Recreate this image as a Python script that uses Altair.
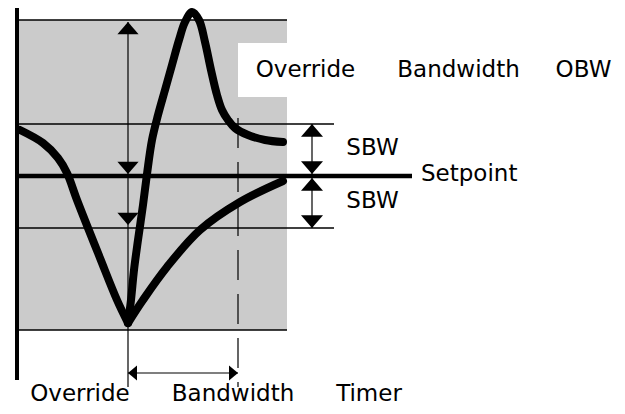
import altair as alt
import pandas as pd

# Diagram units: x = time position, y = deviation from setpoint (setpoint = 0)
X_DOMAIN = [0, 609]
Y_DOMAIN = [-230, 168]

SETPOINT = 0
SBW_HI, SBW_LO = 52, -52
OBW_HI, OBW_LO = 156, -154
T_START, T_END = 120, 230          # override bandwidth timer
BAND_X0, BAND_X1 = 11, 279
SBW_ARROW_X = 304
TIMER_Y = -197

# Process curve, first excursion (falls from above setpoint to the minimum)
a_left_x = [12, 35, 50, 59, 69, 92, 109, 120]
a_left_y = [46, 33, 18, 3, -24, -82, -124, -147]
# recovery without override
a_right_x = [120, 135, 159, 192, 232, 275]
a_right_y = [-147, -124, -91, -54, -26, -5]
# recovery with override overshoot
b_x = [120, 123, 126, 130, 135, 139, 144, 150, 157, 164, 171, 177, 184, 191,
       197, 203, 209, 214, 220, 227, 240, 257, 275]
b_y = [-147, -124, -94, -64, -29, 2, 36, 61, 86, 111, 136, 154, 164, 156,
       134, 106, 81, 66, 56, 48, 41, 36, 34]

rows = []
for name, xs, ys in [("a_left", a_left_x, a_left_y),
                     ("a_right", a_right_x, a_right_y),
                     ("b", b_x, b_y)]:
    for i, (x, y) in enumerate(zip(xs, ys)):
        rows.append({"series": name, "i": i, "x": x, "y": y})
curves_df = pd.DataFrame(rows)

xs = alt.Scale(domain=X_DOMAIN, nice=False, zero=False)
ys = alt.Scale(domain=Y_DOMAIN, nice=False, zero=False)

# Shaded override band and white label cutout
rect_df = pd.DataFrame([
    {"x": BAND_X0, "x2": BAND_X1, "y": OBW_HI, "y2": OBW_LO, "fill": "#cbcbcb"},
    {"x": 230, "x2": 281, "y": 133, "y2": 79, "fill": "white"},
])
rects = alt.Chart(rect_df).mark_rect().encode(
    x=alt.X("x:Q", scale=xs, axis=None), x2="x2:Q",
    y=alt.Y("y:Q", scale=ys, axis=None), y2="y2:Q",
    fill=alt.Fill("fill:N", scale=None),
)

# Solid lines
rule_df = pd.DataFrame([
    {"x": 9, "x2": 9, "y": 168, "y2": -204, "w": 4},                       # axis
    {"x": BAND_X0, "x2": BAND_X1, "y": OBW_HI, "y2": OBW_HI, "w": 1.5},
    {"x": BAND_X0, "x2": 326, "y": SBW_HI, "y2": SBW_HI, "w": 1.5},
    {"x": BAND_X0, "x2": 404, "y": SETPOINT, "y2": SETPOINT, "w": 4.5},
    {"x": BAND_X0, "x2": 326, "y": SBW_LO, "y2": SBW_LO, "w": 1.5},
    {"x": BAND_X0, "x2": BAND_X1, "y": OBW_LO, "y2": OBW_LO, "w": 1.5},
    {"x": T_START, "x2": T_START, "y": 154, "y2": -211, "w": 1.2},
    {"x": SBW_ARROW_X, "x2": SBW_ARROW_X, "y": SBW_HI, "y2": SBW_LO, "w": 1.2},
    {"x": T_START, "x2": T_END, "y": TIMER_Y, "y2": TIMER_Y, "w": 1.2},
])
rules = alt.Chart(rule_df).mark_rule(color="black").encode(
    x=alt.X("x:Q", scale=xs, axis=None), x2="x2:Q",
    y=alt.Y("y:Q", scale=ys, axis=None), y2="y2:Q",
    strokeWidth=alt.StrokeWidth("w:Q", scale=None),
)

dash_df = pd.DataFrame([{"x": T_END, "y": 58, "y2": -211}])
dashed = alt.Chart(dash_df).mark_rule(color="black", strokeWidth=1.2,
                                       strokeDash=[30, 14]).encode(
    x=alt.X("x:Q", scale=xs, axis=None),
    y=alt.Y("y:Q", scale=ys, axis=None), y2="y2:Q",
)

curves = alt.Chart(curves_df).mark_line(
    color="black", strokeWidth=8, strokeCap="round", strokeJoin="round",
    interpolate="catmull-rom",
).encode(
    x=alt.X("x:Q", scale=xs, axis=None),
    y=alt.Y("y:Q", scale=ys, axis=None),
    detail="series:N",
    order=alt.Order("i:Q"),
)

DOWN = "M-1,-1.15L1,-1.15L0,0Z"
UP = "M-1,1.15L1,1.15L0,0Z"
LEFT = "M0,0L1.2,-1L1.2,1Z"
RIGHT = "M0,0L-1.2,-1L-1.2,1Z"
arrow_df = pd.DataFrame([
    {"x": T_START, "y": 154, "shape": UP, "size": 450},
    {"x": T_START, "y": 2, "shape": DOWN, "size": 450},
    {"x": T_START, "y": -49, "shape": DOWN, "size": 450},
    {"x": SBW_ARROW_X, "y": SBW_HI, "shape": UP, "size": 484},
    {"x": SBW_ARROW_X, "y": 2, "shape": DOWN, "size": 484},
    {"x": SBW_ARROW_X, "y": -2, "shape": UP, "size": 484},
    {"x": SBW_ARROW_X, "y": SBW_LO, "shape": DOWN, "size": 484},
    {"x": T_START, "y": TIMER_Y, "shape": LEFT, "size": 225},
    {"x": T_END, "y": TIMER_Y, "shape": RIGHT, "size": 225},
])
arrows = alt.Chart(arrow_df).mark_point(filled=True, color="black", opacity=1,
                                        strokeWidth=0).encode(
    x=alt.X("x:Q", scale=xs, axis=None),
    y=alt.Y("y:Q", scale=ys, axis=None),
    shape=alt.Shape("shape:N", scale=None),
    size=alt.Size("size:Q", scale=None),
)

label_words = ["Override", "Bandwidth", "OBW", "SBW", "SBW",
               "Override", "Bandwidth", "Timer"]
label_x = [297.5, 450.5, 575.5, 364.5, 364.5, 72, 225, 361]
label_y = [99, 99, 99, 21, -32, -225, -225, -225]
label_df = pd.DataFrame({"t": label_words, "x": label_x, "y": label_y})
labels = alt.Chart(label_df).mark_text(
    font="DejaVu Sans", fontSize=23, color="black", align="center",
    baseline="alphabetic",
).encode(
    x=alt.X("x:Q", scale=xs, axis=None),
    y=alt.Y("y:Q", scale=ys, axis=None),
    text="t:N",
)

sp_df = pd.DataFrame({"t": ["Setpoint"], "x": [413], "y": [-5]})
setpoint_label = alt.Chart(sp_df).mark_text(
    font="DejaVu Sans", fontSize=23, color="black", align="left",
    baseline="alphabetic",
).encode(
    x=alt.X("x:Q", scale=xs, axis=None),
    y=alt.Y("y:Q", scale=ys, axis=None),
    text="t:N",
)

chart = alt.layer(rects, rules, dashed, curves, arrows, labels,
                  setpoint_label).properties(
    width=609, height=398, padding=0, autosize="none",
    background="white",
).configure_view(stroke=None)

chart.save("out.html", embed_options={"renderer": "svg", "actions": False})
